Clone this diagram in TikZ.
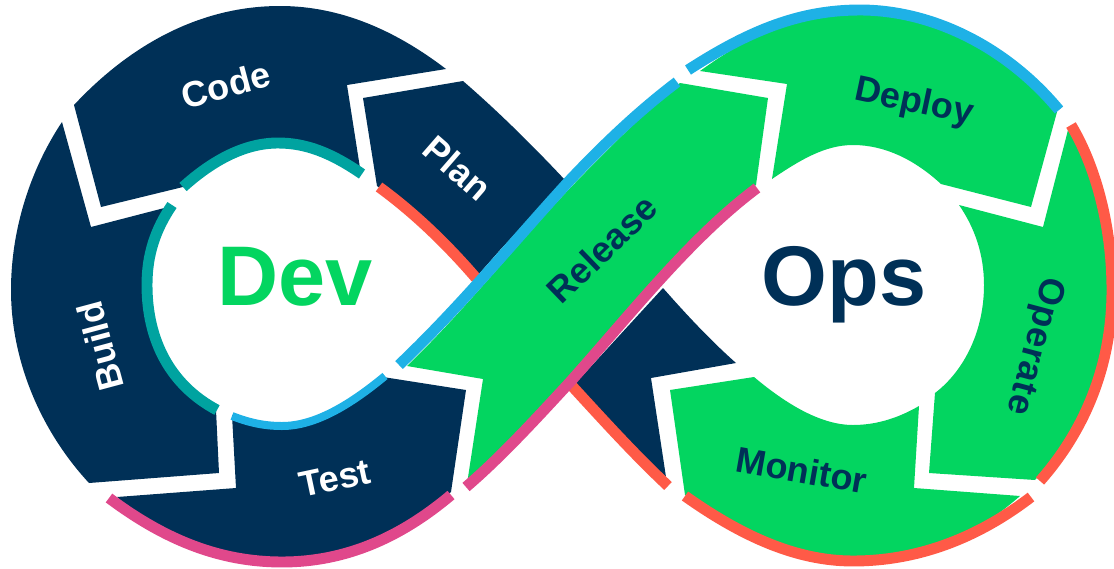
\documentclass[tikz,border=0pt]{standalone}
\usepackage{fontspec}
\setmainfont{Liberation Sans}
\definecolor{navy}{HTML}{003057}
\definecolor{grn}{HTML}{03D560}
\definecolor{tealc}{HTML}{00A3A0}
\definecolor{skyc}{HTML}{1EB1E6}
\definecolor{orangec}{HTML}{FF5A47}
\definecolor{pinkc}{HTML}{E0488B}
\tikzset{
  navyseg/.style={fill=navy,draw=none},
  greenseg/.style={fill=grn,draw=none},
  rim/.style={line width=8.2pt,line cap=butt,line join=round},
  seglabel/.style={font=\bfseries\fontsize{27}{32}\selectfont,inner sep=0pt},
  biglabel/.style={font=\bfseries\fontsize{63.5}{70}\selectfont,inner sep=0pt,anchor=base}
}
\begin{document}
\begin{tikzpicture}[x=0.75pt,y=-0.75pt]
\useasboundingbox (0,0) rectangle (1114,568);
\clip (0,0) rectangle (1114,568);
% Dev loop
\path[navyseg] (74,105) .. controls (130,45) and (200,6) .. (280,6) .. controls (340,6) and (395,30) .. (446,69) -- (347,85) -- (360,168) -- (362,173) .. controls (330,152) and (305,143) .. (278,143) .. controls (245,143) and (213,160) .. (183,187) -- (101,207) -- cycle;
\path[navyseg] (62,122) .. controls (30,170) and (11,230) .. (11,290) .. controls (11,360) and (40,430) .. (89,483) -- (219,473) -- (216,410) .. controls (170,385) and (148,340) .. (148,285) .. controls (148,255) and (155,230) .. (172,206) -- (91,227) -- cycle;
\path[navyseg] (232,415) .. controls (250,423) and (265,428) .. (282,428) .. controls (315,428) and (350,405) .. (383,377) -- (466,390) -- (451,492) .. controls (400,535) and (345,562) .. (282,562) .. controls (220,562) and (165,540) .. (117,497) -- (236,488) -- cycle;
\path[navyseg] (363,98) -- (463,81) .. controls (500,113) and (535,148) .. (565,180) -- (500,250) -- (478,275) .. controls (445,240) and (410,210) .. (377,186) -- cycle;
\path[navyseg] (663,288) .. controls (685,313) and (710,340) .. (736,363) -- (651,378) -- (666,477) .. controls (635,450) and (605,420) .. (574,385) -- cycle;
% Ops loop
\path[greenseg] (700,71) -- (787,84) -- (772,179) .. controls (800,160) and (825,145) .. (853,145) .. controls (885,145) and (915,160) .. (941,184) -- (1031,207) -- (1057,112) .. controls (1000,45) and (930,10) .. (860,10) .. controls (800,10) and (750,35) .. (700,71) -- cycle;
\path[greenseg] (959,205) -- (1043,227) -- (1068,130) .. controls (1095,175) and (1111,230) .. (1111,290) .. controls (1111,360) and (1085,425) .. (1035,480) -- (929,473) -- (935,393) .. controls (965,370) and (984,330) .. (984,285) .. controls (984,255) and (975,228) .. (959,205) -- cycle;
\path[greenseg] (670,390) -- (754,377) .. controls (785,403) and (820,425) .. (853,425) .. controls (878,425) and (900,417) .. (919,406) -- (914,488) -- (1020,496) .. controls (970,540) and (915,561) .. (853,561) .. controls (795,561) and (740,535) .. (685,495) -- cycle;
% rims under the band
\draw[rim,orangec] (379,187) .. controls (412,211) and (445,242) .. (476,278);
\draw[rim,orangec] (572,386) .. controls (605,422) and (635,455) .. (668,486);
% Release band
\path[greenseg] (680,83) -- (768,98) -- (756,185) .. controls (690,235) and (630,315) .. (570,380) .. controls (535,418) and (500,455) .. (467,484) -- (483,379) -- (407,366) .. controls (470,305) and (520,240) .. (575,183) .. controls (610,147) and (645,112) .. (680,83) -- cycle;
\draw[rim,skyc] (399,365) .. controls (462,305) and (515,240) .. (570,180) .. controls (605,143) and (640,110) .. (677,82);
\draw[rim,pinkc] (757,188) .. controls (690,238) and (630,315) .. (570,382) .. controls (535,420) and (500,458) .. (466,487);
% rims
\draw[rim,tealc] (362,174) .. controls (330,152) and (305,143) .. (278,143) .. controls (245,143) and (213,160) .. (183,187);
\draw[rim,tealc] (172,205) .. controls (155,230) and (147,255) .. (147,285) .. controls (147,340) and (170,385) .. (217,410);
\draw[rim,skyc,line width=6pt] (232,416) .. controls (250,423) and (265,426) .. (282,426) .. controls (315,426) and (350,405) .. (385,376);
\draw[rim,pinkc] (451,495) .. controls (400,538) and (345,562) .. (282,562) .. controls (220,562) and (165,540) .. (109,498);
\draw[rim,skyc] (688,70) .. controls (750,30) and (800,10) .. (860,10) .. controls (930,10) and (1005,45) .. (1059,110);
\draw[rim,orangec] (1071,125) .. controls (1095,165) and (1112,225) .. (1112,290) .. controls (1112,365) and (1085,430) .. (1040,481);
\draw[rim,orangec] (685,496) .. controls (740,535) and (795,561) .. (853,561) .. controls (915,561) and (975,540) .. (1031,497);
% labels
\node[seglabel,white,rotate=15] (code) at (226,85) {Code};
\node[seglabel,white,rotate=-41] (plan) at (458,168) {Plan};
\node[seglabel,white,rotate=105] (build) at (100,346) {Build};
\node[seglabel,white,rotate=12] (test) at (335,478) {Test};
\node[seglabel,navy,rotate=44] (release) at (602,249) {Release};
\node[seglabel,navy,rotate=-12] (deploy) at (914,103) {Deploy};
\node[seglabel,navy,rotate=-105] (operate) at (1034,346) {\addfontfeature{LetterSpace=2}Operate};
\node[seglabel,navy,rotate=-10] (monitor) at (802,470) {Monitor};
\node[biglabel,grn] (dev) at (295,305) {Dev};
\node[biglabel,navy] (ops) at (844,305) {Ops};
\end{tikzpicture}
\end{document}
